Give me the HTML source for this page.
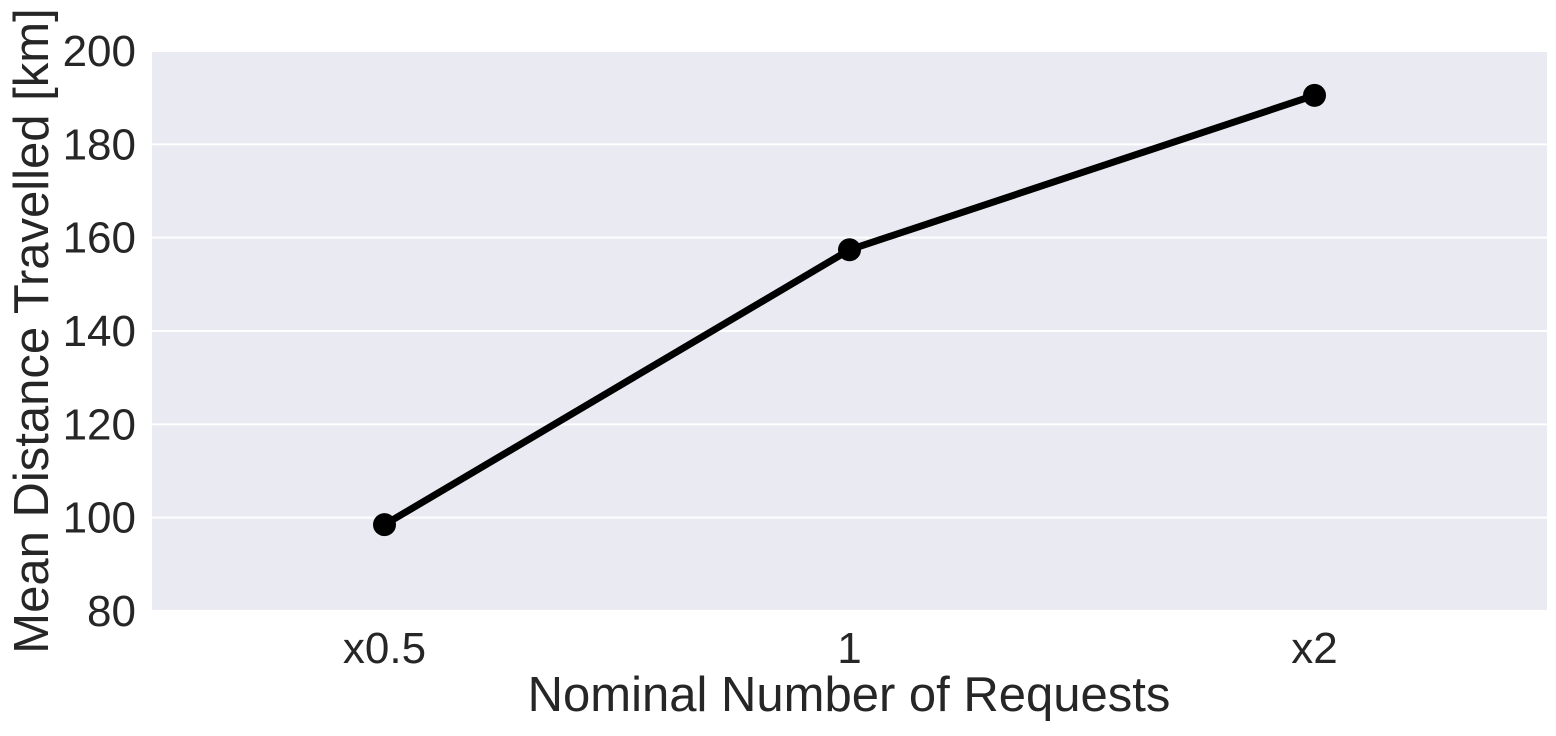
<!DOCTYPE html>
<html><head><meta charset="utf-8"><style>
html,body{margin:0;padding:0;background:#fff;}
svg text{font-family:"Liberation Sans",Arial,sans-serif;fill:#262626;}
</style></head><body>
<svg width="1556" height="731">
<rect x="152" y="51" width="1395" height="560" fill="#eaeaf2"/>
<g id="grid"></g><g id="yticks"></g><g id="xticks"></g><g id="series"></g>
<text x="849" y="711" font-size="49" text-anchor="middle">Nominal Number of Requests</text>
<text transform="translate(48,331) rotate(-90)" font-size="49" text-anchor="middle">Mean Distance Travelled [km]</text>
</svg>
<script>
const categories=["x0.5","1","x2"];
const values=[98.5,157.4,190.5];
const yTicks=[80,100,120,140,160,180,200];
const NS="http://www.w3.org/2000/svg";
const L=152,R=1547,T=51,B=611,yMin=80,yMax=200;
const y=v=>B-(v-yMin)/(yMax-yMin)*(B-T);
const bw=(R-L)/categories.length;
const x=i=>L+bw*(i+0.5);
function mk(tag,attrs,parent){const e=document.createElementNS(NS,tag);for(const k in attrs)e.setAttribute(k,attrs[k]);document.getElementById(parent).appendChild(e);return e;}
yTicks.forEach(t=>{
 const g=mk('line',{x1:L,x2:R,y1:y(t),y2:y(t),stroke:'#fff','stroke-width':2},'grid');
 
 
 const tx=mk('text',{x:136,y:y(t)+15,'font-size':44,'text-anchor':'end'},'yticks');
 tx.textContent=t;
 
 
});
categories.forEach((c,i)=>{
 const tx=mk('text',{x:x(i),y:663,'font-size':44,'text-anchor':'middle'},'xticks');
 tx.textContent=c;
 
 
});
const pl=mk('polyline',{points:values.map((v,i)=>x(i)+','+y(v)).join(' '),fill:'none',stroke:'#000','stroke-width':7,'stroke-linejoin':'round'},'series');


values.forEach((v,i)=>{
 const c=mk('circle',{cx:x(i),cy:y(v),r:11.5,fill:'#000'},'series');
 
 
});
</script>
</body></html>
